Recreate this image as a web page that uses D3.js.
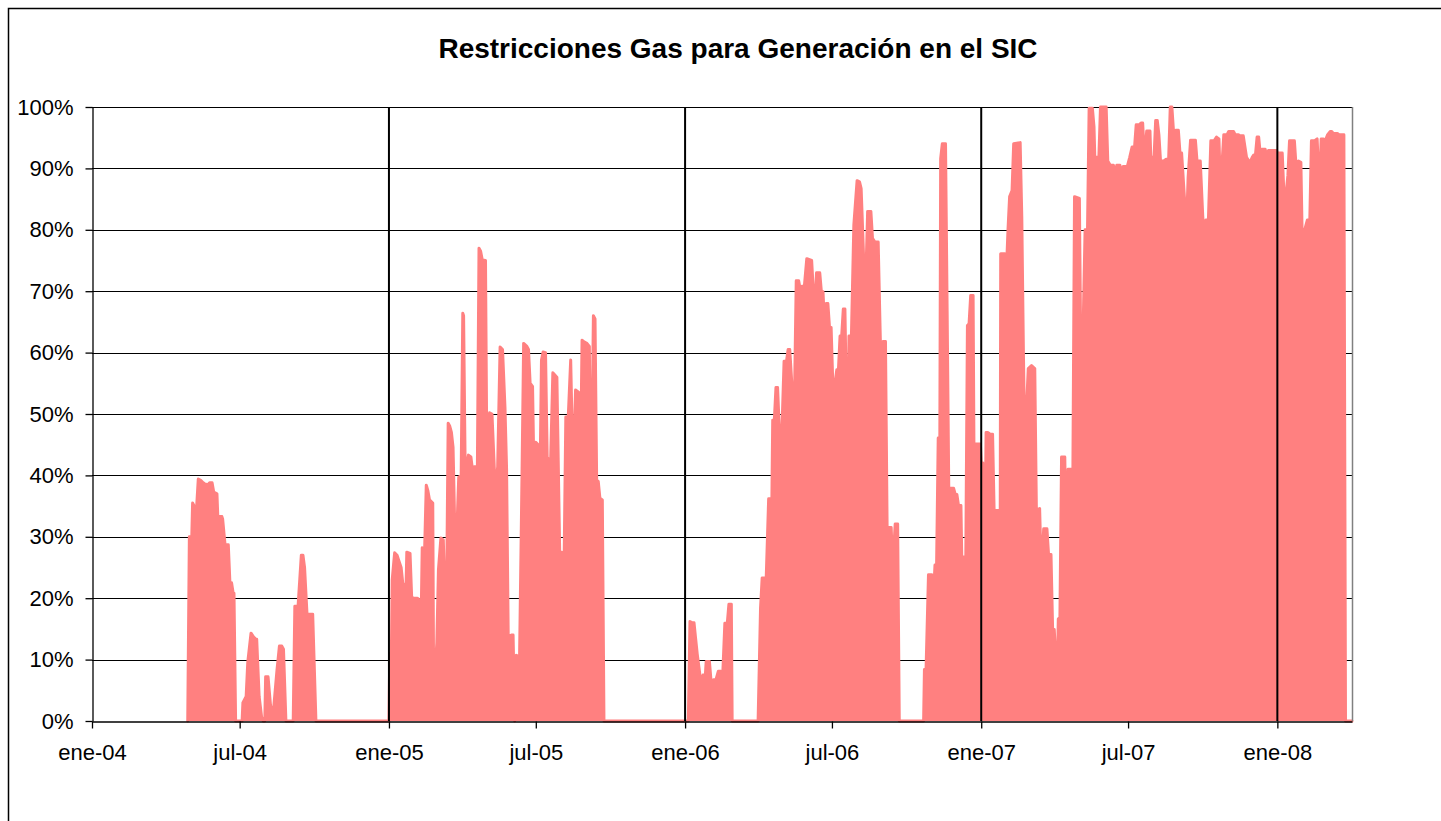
<!DOCTYPE html>
<html>
<head>
<meta charset="utf-8">
<script src="https://d3js.org/d3.v7.min.js"></script>
<style>
  body { margin: 0; background: #fff; }
  svg text { font-family: "Liberation Sans", Arial, sans-serif; fill: #000; }
</style>
</head>
<body>
<div id="chart"></div>
<script>
// each point: [day of the year (0 = 1 de enero), % restricted]
const restr2004 = [[118,0],[120,30],[123,30],[124,35.5],[126,35],[128,32.7],[131,39.4],[134,39.2],[137,38.8],[139,38.6],
  [143,38.5],[145,38.8],[148,38.8],[150,37.3],[154,37],[155,33.5],[160,33.3],[161,32.9],[164,28.7],[168,28.7],
  [170,22.5],[172,22.5],[174,20.8],[175,20.8],[177,0],[185,0],[186,3],[190,4],[192,9.6],[196,14.3],[199,13.7],
  [202,13.3],[203,13.3],[206,4],[209,0.7],[211,0],[213,0],[214,7.2],[217,7.2],[220,2.6],[223,0.7],[228,8.3],
  [231,12.2],[234,12.2],[236,11.7],[239,0],[248,0],[250,18.7],[254,18.7],[258,27],[260,27],[262,25],[265,17.4],
  [272,17.4],[276,0],[365,0]];

const restr2005 = [[0,0],[1,11],[3,11],[4,23],[7,27.4],[10,27],[12,26.2],[15,25],[17,22.5],[19,22],[20,15.3],
  [22,27.5],[26,27.3],[28,20.2],[30,20],[35,20],[37,19.8],[39,10.4],[41,28.2],[44,28],[46,38.4],[48,37.5],[50,36],
  [54,35.5],[55,8.3],[57,8.5],[59,12.7],[61,24.6],[64,29.8],[67,29.5],[69,19.7],[71,20],[73,48.5],[75,48],[77,47],
  [79,44.6],[81,32.2],[84,32],[86,39.7],[89,40],[91,66.4],[92,66],[94,40.4],[98,43.3],[101,43],[103,40.9],[105,41.4],
  [109,41.4],[111,77],[113,76.5],[115,75.1],[119,75],[121,36],[124,50.2],[127,50],[131,37.6],[134,41.4],[137,60.9],
  [140,60.5],[143,51.1],[145,40.9],[147,13.7],[151,14],[153,14],[155,0],[157,10.7],[161,10.5],[164,40],[166,61.5],
  [170,61],[172,60.5],[174,55],[177,54.5],[179,37.6],[181,45.4],[184,45],[186,37.1],[188,58.8],[190,60.1],[193,60],
  [195,43],[197,42.5],[199,40.9],[202,56.7],[207,56],[211,23],[213,27.5],[216,27.2],[218,49.5],[221,49.5],[224,58.8],
  [227,39.7],[230,53.9],[234,53.5],[235,29.2],[238,62],[241,61.7],[244,61.5],[247,61],[249,32.7],[252,66],[254,65.5],
  [256,39.2],[258,39],[260,36.3],[263,36],[265,0],[364,0]];

const restr2006 = [[0,0],[4,0],[6,16.2],[9,16],[11,16],[13,13.4],[15,10.9],[18,7.8],[19,5.6],[22,7.5],[25,7.5],
  [26,9.7],[30,9.7],[32,6.5],[35,6.7],[38,6.7],[41,8.1],[44,8.1],[46,6.2],[49,15.9],[52,15.9],[54,19],[57,19],[58,0],
  [90,0],[93,18.4],[95,23.3],[100,23.3],[103,36.2],[107,36.2],[108,49],[110,49],[112,54.3],[114,54.3],[118,41.5],
  [122,58.6],[125,58.6],[127,60.5],[129,60.5],[132,54],[135,54],[137,71.7],[140,71.7],[142,70.2],[144,70.8],[147,70.8],
  [150,75.3],[156,75],[158,70.2],[161,70.2],[162,73],[166,73],[168,69.9],[170,69.9],[172,64],[174,68],[176,68],
  [178,64.1],[180,64.1],[182,55.2],[185,55.2],[187,57.2],[189,57.2],[191,62.7],[193,62.7],[195,67.1],[197,67.1],
  [199,51.2],[201,51.2],[202,62.7],[205,62.7],[208,80.8],[212,88],[215,87.8],[217,86.7],[222,68.3],[225,83],[229,83],
  [231,78.6],[234,78],[238,78],[241,59.9],[244,61.8],[247,61.8],[249,31.5],[254,31.5],[256,25.3],[259,32.1],[262,32.1],
  [264,0],[294,0],[295,8.4],[297,8.4],[300,23.8],[304,23.8],[305,16.9],[308,25.4],[310,25.4],[312,46.1],[314,46.1],
  [315,91.6],[317,94],[321,94],[323,66.7],[325,37.9],[331,37.9],[333,36.9],[335,36.9],[337,35.1],[340,35.1],
  [341,26.7],[346,26.7],[348,64.4],[350,64.7],[352,69.3],[355,69.3],[356,45.1],[364,45.1]];

const restr2007 = [[0,42],[2,42],[3,33.9],[5,33.9],[6,47],[8,47],[11,46.7],[14,46.7],[16,33.6],[18,34.3],[22,34.3],
  [23,1],[24,76.1],[29,76.1],[31,73.1],[33,80],[35,85.4],[38,86.4],[40,94],[48,94.2],[50,82.1],[52,60],[54,41.8],
  [56,51.6],[58,57.4],[62,57.9],[66,57.4],[68,34.3],[72,34.6],[74,24.1],[77,31.3],[81,31.3],[83,27.1],[86,27.1],
  [88,14.9],[90,14.9],[92,10],[94,9.4],[95,16.6],[97,16.9],[99,43],[103,43],[105,25],[107,41],[113,41],[115,85.4],
  [121,85.1],[124,40.5],[126,66.5],[128,80],[131,80],[133,99.8],[137,99.8],[139,96.8],[140,91.8],[145,91.8],[147,100],
  [154,100],[156,91.2],[159,90.5],[163,90.5],[165,88.5],[167,90.5],[171,90.5],[173,89.2],[175,90.3],[180,90.3],
  [183,91.8],[186,93.5],[189,93.5],[191,97.1],[195,97.1],[197,97.4],[199,97.4],[201,91.8],[204,96.1],[208,96.1],
  [209,91.8],[213,91.8],[215,97.8],[217,97.8],[219,95.5],[221,91.2],[225,91.2],[228,91.5],[231,91.5],[233,100],
  [235,100],[238,94.1],[240,96.2],[243,96.2],[245,92.5],[247,92.5],[250,86.2],[253,80.3],[255,88.5],[258,94.6],
  [264,94.6],[266,91.2],[270,91.2],[273,82.3],[275,78],[277,81.6],[280,81.6],[283,94.5],[287,94.5],[290,95.1],
  [293,94.8],[295,86.2],[297,91.2],[299,95.5],[303,95.5],[305,96],[311,96],[313,95.5],[317,95.5],[319,95.3],
  [323,95.3],[327,91.8],[330,91.2],[332,91.2],[334,91.8],[336,92.2],[338,92.2],[340,95.1],[342,95.1],[344,92.2],
  [346,93.1],[350,93.1],[352,91.8],[354,92.9],[364,92.9]];

const restr2008 = [[0,92.5],[6,92.5],[8,86.2],[11,86.2],[13,88.9],[15,94.5],[21,94.5],[23,90.5],[26,91.2],[29,91],
  [31,75.7],[33,79.6],[37,81.6],[40,81.6],[42,94.5],[46,94.5],[49,94.8],[52,86.2],[54,94.8],[57,94.8],[59,94.5],
  [62,95.5],[65,96],[67,96],[69,95.7],[74,95.7],[76,95.5],[82,95.5],[84,0],[92,0]];

const tickDates = ["2004-01-01","2004-07-01","2005-01-01","2005-07-01","2006-01-01","2006-07-01","2007-01-01","2007-07-01","2008-01-01"];
const tickLabels = ["ene-04","jul-04","ene-05","jul-05","ene-06","jul-06","ene-07","jul-07","ene-08"];
const yearLines = ["2005-01-01","2006-01-01","2007-01-01","2008-01-01"];
const yTicks = [0,10,20,30,40,50,60,70,80,90,100];
const dateRange = ["2004-01-01","2008-04-02"];

const title = "Restricciones Gas para Generación en el SIC";

var width = 1441, height = 821;
var plot = {left: 92, right: 1352, top: 107, bottom: 721};

let parse = d3.timeParse("%Y-%m-%d");

let svg = d3.select("#chart")
  .append("svg")
    .attr("width", width)
    .attr("height", height);

// chart frame (runs off the right and bottom of the picture)
svg.append("rect")
  .attr("x", 8.5).attr("y", 8.5)
  .attr("width", width + 20).attr("height", height + 20)
  .attr("fill", "none")
  .attr("stroke", "#000")
  .attr("stroke-width", 1.5);

let rows = [];
[[2004, restr2004], [2005, restr2005], [2006, restr2006], [2007, restr2007], [2008, restr2008]]
  .forEach(([yr, pts]) => pts.forEach(p => rows.push({date: new Date(yr, 0, 1 + p[0]), value: p[1]})));

let x = d3.scaleTime()
  .domain(dateRange.map(parse))
  .range([plot.left, plot.right]);

let y = d3.scaleLinear()
  .domain([0, 100])
  .range([plot.bottom, plot.top]);

// horizontal gridlines
svg.append("g")
  .selectAll("line")
  .data(yTicks.filter(v => v > 0))
  .enter()
  .append("line")
    .attr("x1", plot.left).attr("x2", plot.right)
    .attr("y1", d => Math.round(y(d)) + 0.5).attr("y2", d => Math.round(y(d)) + 0.5)
    .attr("stroke", "#000")
    .attr("stroke-width", 1);

// series
let area = d3.area()
  .x(d => x(d.date))
  .y0(y(0))
  .y1(d => y(d.value));

let line = d3.line()
  .x(d => x(d.date))
  .y(d => y(d.value));

svg.append("path")
  .datum(rows)
  .attr("d", area)
  .attr("fill", "#FF8080");

svg.append("path")
  .datum(rows)
  .attr("d", line)
  .attr("fill", "none")
  .attr("stroke", "#FF8080")
  .attr("stroke-width", 3)
  .attr("stroke-linejoin", "round")
  .attr("stroke-linecap", "round");

// year separators drawn over the data
svg.append("g")
  .selectAll("line")
  .data(yearLines.map(parse))
  .enter()
  .append("line")
    .attr("x1", d => x(d)).attr("x2", d => x(d))
    .attr("y1", plot.top).attr("y2", plot.bottom)
    .attr("stroke", "#000")
    .attr("stroke-width", 2);

// right edge of the plot area
svg.append("line")
  .attr("x1", plot.right + 0.5).attr("x2", plot.right + 0.5)
  .attr("y1", plot.top).attr("y2", plot.bottom)
  .attr("stroke", "#808080")
  .attr("stroke-width", 1.5);

// axes
let yAxis = d3.axisLeft(y)
  .tickValues(yTicks)
  .tickSize(7)
  .tickSizeOuter(0)
  .tickPadding(12)
  .tickFormat(d => d + "%");

let xAxis = d3.axisBottom(x)
  .tickValues(tickDates.map(parse))
  .tickSize(7)
  .tickSizeOuter(0)
  .tickPadding(16)
  .tickFormat((d, i) => tickLabels[i]);

let gy = svg.append("g")
  .attr("transform", "translate(" + (plot.left + 0.5) + ",0)")
  .call(yAxis);

let gx = svg.append("g")
  .attr("transform", "translate(0," + (plot.bottom + 0.5) + ")")
  .call(xAxis);

[gy, gx].forEach(g => {
  g.selectAll("path, line").attr("stroke", "#000").attr("stroke-width", 1.3);
  g.selectAll("text").attr("font-size", "22px").attr("font-family", "Liberation Sans, Arial, sans-serif").attr("fill", "#000");
});

// title
svg.append("text")
  .attr("x", 738)
  .attr("y", 58)
  .attr("text-anchor", "middle")
  .attr("font-size", "28px")
  .attr("font-weight", "bold")
  .text(title);
</script>
</body>
</html>
